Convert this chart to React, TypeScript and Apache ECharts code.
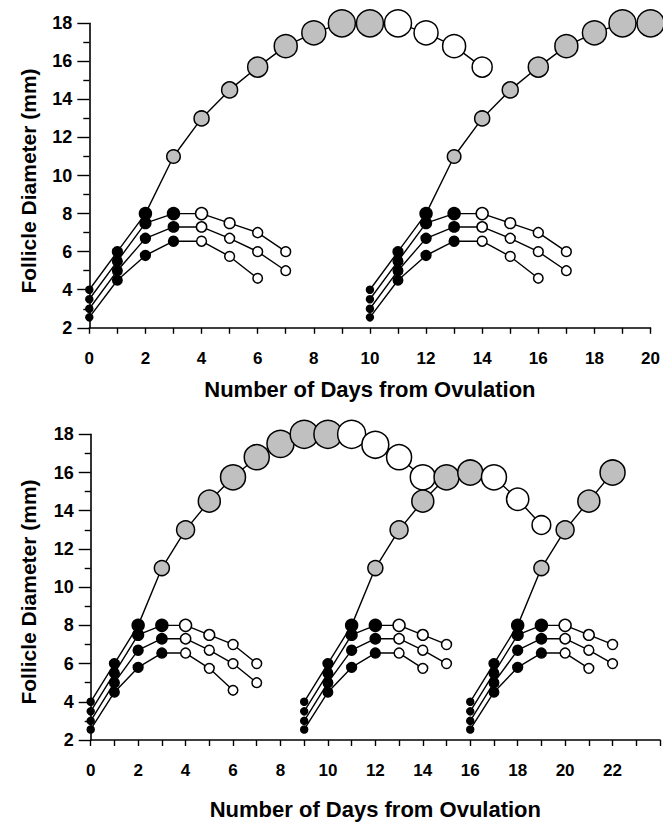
import React, { useEffect, useRef } from "react";
import * as echarts from "echarts";

// ---------- DATA ----------
// Each wave is given as consecutive daily values starting at its start day.
const topWaveStarts = [0, 10];
const bottomWaveStarts = [0, 9, 16];

// Dominant follicle (top panel)
const topDominant1 = [4.0, 6.0, 8.0, 11.0, 13.0, 14.5, 15.7, 16.8, 17.5, 18.0, 18.0, 18.0, 17.5, 16.8, 15.7];
const topDominant2 = [4.0, 6.0, 8.0, 11.0, 13.0, 14.5, 15.7, 16.8, 17.5, 18.0, 18.0];
// Dominant follicle (bottom panel)
const bottomDominant1 = [4.0, 6.0, 8.0, 11.0, 13.0, 14.5, 15.75, 16.8, 17.5, 18.0, 18.0, 18.0, 17.45, 16.8, 15.75];
const bottomDominant2 = [4.0, 6.0, 8.0, 11.0, 13.0, 14.5, 15.75, 16.0, 15.75, 14.6, 13.25];
const bottomDominant3 = [4.0, 6.0, 8.0, 11.0, 13.0, 14.5, 16.0];

// Subordinate follicles, full-length waves
const subordinateA = [3.5, 5.5, 7.5, 8.0, 8.0, 7.5, 7.0, 6.0];
const subordinateB = [3.0, 5.0, 6.7, 7.3, 7.3, 6.7, 6.0, 5.0];
const subordinateC = [2.55, 4.5, 5.8, 6.55, 6.55, 5.75, 4.6];
// Subordinate follicles, shorter waves (bottom panel waves 2 and 3)
const subordinateAShort = [3.5, 5.5, 7.5, 8.0, 8.0, 7.5, 7.0];
const subordinateBShort = [3.0, 5.0, 6.7, 7.3, 7.3, 6.7, 6.0];
const subordinateCShort = [2.55, 4.5, 5.8, 6.55, 6.55, 5.75];

// Phase boundaries (day offset within a wave)
const dominantSelectedFrom = 3; // dominant follicle turns grey
const topDominantRegressFrom = [11, 99];
const bottomDominantRegressFrom = [11, 8, 99];
const subordinateRegressFrom = 4;

const yTicks = [2, 4, 6, 8, 10, 12, 14, 16, 18];
const xTitle = "Number of Days from Ovulation";
const yTitle = "Follicle Diameter (mm)";

// ---------- STYLE ----------
const FONT = "'Liberation Sans', Arial, Helvetica, sans-serif";
const BLACK = "#000000";
const GREY = "#c0c0c0";
const WHITE = "#ffffff";

// marker diameter as a function of follicle diameter (visual scale)
const topSizeKnots: [number, number][] = [
  [2, 7], [4.2, 7], [4.5, 9.5], [7.2, 10], [8, 12], [11, 13.5], [13, 15], [14.5, 16], [15.7, 20], [16.8, 23], [17.5, 24], [18, 27],
];
const bottomSizeKnots: [number, number][] = [
  [2, 7], [4.2, 7], [4.5, 9.5], [7.2, 10], [8, 12], [11, 15], [13, 18], [14.5, 22], [15.7, 25], [16.8, 25], [17.5, 27], [18, 28],
];
function interp(knots: [number, number][], v: number) {
  if (v <= knots[0][0]) return knots[0][1];
  for (let i = 1; i < knots.length; i++) {
    if (v <= knots[i][0]) {
      const [x0, y0] = knots[i - 1];
      const [x1, y1] = knots[i];
      return y0 + ((v - x0) / (x1 - x0)) * (y1 - y0);
    }
  }
  return knots[knots.length - 1][1];
}

function dominantSeries(values: number[], start: number, regressFrom: number, grid: number, knots: [number, number][]) {
  return {
    type: "line",
    xAxisIndex: grid,
    yAxisIndex: grid,
    clip: false,
    symbol: "circle",
    symbolSize: (val: number[]) => interp(knots, val[1]),
    lineStyle: { color: BLACK, width: 1.4 },
    data: values.map((v, i) => ({
      value: [start + i, v],
      itemStyle: {
        color: i < dominantSelectedFrom ? BLACK : i >= regressFrom ? WHITE : GREY,
        borderColor: BLACK,
        borderWidth: 1.5,
      },
    })),
  };
}

function subordinateSeries(values: number[], start: number, grid: number, knots: [number, number][]) {
  return {
    type: "line",
    xAxisIndex: grid,
    yAxisIndex: grid,
    clip: false,
    symbol: "circle",
    symbolSize: (val: number[]) => interp(knots, val[1]),
    lineStyle: { color: BLACK, width: 1.4 },
    data: values.map((v, i) => ({
      value: [start + i, v],
      itemStyle: {
        color: i < subordinateRegressFrom ? BLACK : WHITE,
        borderColor: BLACK,
        borderWidth: 1.5,
      },
    })),
  };
}

function xAxis(grid: number, max: number, nameGap: number) {
  return {
    type: "value",
    gridIndex: grid,
    min: 0,
    max,
    interval: 2,
    name: xTitle,
    nameLocation: "middle",
    nameGap,
    nameTextStyle: { fontFamily: FONT, fontWeight: "bold", fontSize: 22, color: BLACK },
    axisLine: { show: true, onZero: false, lineStyle: { color: BLACK, width: 1.6 } },
    axisTick: { show: true, length: 6, lineStyle: { color: BLACK, width: 1.4 } },
    minorTick: { show: true, splitNumber: 2, length: 6, lineStyle: { color: BLACK, width: 1.4 } },
    splitLine: { show: false },
    minorSplitLine: { show: false },
    axisLabel: {
      fontFamily: FONT,
      fontWeight: "bold",
      fontSize: 17,
      color: BLACK,
      margin: 22,
      formatter: (v: number) => (v >= 24 ? "" : String(v)),
    },
  };
}

function yAxis(grid: number) {
  return {
    type: "value",
    gridIndex: grid,
    min: yTicks[0],
    max: yTicks[yTicks.length - 1],
    interval: 2,
    axisLine: { show: true, onZero: false, lineStyle: { color: BLACK, width: 1.6 } },
    axisTick: { show: true, length: 12, lineStyle: { color: BLACK, width: 1.4 } },
    minorTick: { show: true, splitNumber: 2, length: 6, lineStyle: { color: BLACK, width: 1.4 } },
    splitLine: { show: false },
    minorSplitLine: { show: false },
    axisLabel: { fontFamily: FONT, fontWeight: "bold", fontSize: 18, color: BLACK, margin: 17 },
  };
}

export default function App() {
  const ref = useRef<HTMLDivElement>(null);
  useEffect(() => {
    if (!ref.current) return;
    const chart = echarts.init(ref.current, undefined, { renderer: "svg" });

    const series: any[] = [];
    // top panel
    const topSubs = [subordinateA, subordinateB, subordinateC];
    const topDoms = [topDominant1, topDominant2];
    topWaveStarts.forEach((s, w) => {
      topSubs.forEach((arr) => series.push(subordinateSeries(arr, s, 0, topSizeKnots)));
      series.push(dominantSeries(topDoms[w], s, topDominantRegressFrom[w], 0, topSizeKnots));
    });
    // bottom panel
    const bottomSubs = [
      [subordinateA, subordinateB, subordinateC],
      [subordinateAShort, subordinateBShort, subordinateCShort],
      [subordinateAShort, subordinateBShort, subordinateCShort],
    ];
    const bottomDoms = [bottomDominant1, bottomDominant2, bottomDominant3];
    bottomWaveStarts.forEach((s, w) => {
      bottomSubs[w].forEach((arr) => series.push(subordinateSeries(arr, s, 1, bottomSizeKnots)));
      series.push(dominantSeries(bottomDoms[w], s, bottomDominantRegressFrom[w], 1, bottomSizeKnots));
    });

    const yTitleStyle = {
      text: yTitle,
      fontFamily: FONT,
      fontWeight: "bold",
      fontSize: 21,
      fill: BLACK,
      align: "center",
      verticalAlign: "middle",
    };

    chart.setOption({
      animation: false,
      backgroundColor: WHITE,
      grid: [
        { left: 89.3, top: 23.3, width: 563, height: 304.5 },
        { left: 90.7, top: 434.3, width: 570.3, height: 305.7 },
      ],
      xAxis: [xAxis(0, 20, 51), xAxis(1, 24, 58)],
      yAxis: [yAxis(0), yAxis(1)],
      graphic: [
        { type: "text", x: 28, y: 181, rotation: Math.PI / 2, style: yTitleStyle },
        { type: "text", x: 28, y: 592, rotation: Math.PI / 2, style: yTitleStyle },
      ],
      series,
    });
    return () => chart.dispose();
  }, []);
  return (
    <div
      ref={ref}
      style={{ position: "fixed", left: 0, top: 0, width: 663, height: 822, background: "#fff" }}
    />
  );
}
